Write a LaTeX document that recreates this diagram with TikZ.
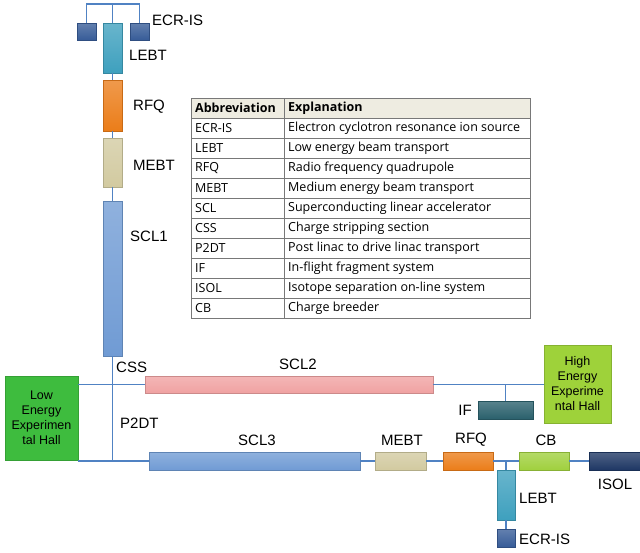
\documentclass[tikz,border=0pt]{standalone}
\usepackage{fontspec}
\setmainfont{Liberation Sans}
\newfontfamily\tabfont{Open Sans}
\definecolor{ecrc}{RGB}{55,92,152}
\definecolor{lebtc}{RGB}{62,160,190}
\definecolor{rfqc}{RGB}{235,125,25}
\definecolor{mebtc}{RGB}{210,202,160}
\definecolor{sclc}{RGB}{112,155,212}
\definecolor{scltwoc}{RGB}{240,162,162}
\definecolor{lowc}{RGB}{62,188,62}
\definecolor{highc}{RGB}{158,210,58}
\definecolor{ifc}{RGB}{42,96,108}
\definecolor{cbc}{RGB}{160,208,62}
\definecolor{isolc}{RGB}{30,55,100}
\definecolor{linec}{RGB}{80,130,195}
\definecolor{headc}{RGB}{238,236,225}
\definecolor{gridc}{RGB}{120,120,120}
\begin{document}
\begin{tikzpicture}[x=1pt,y=-1pt,
  blk/.style={inner sep=0pt,outer sep=0pt,draw=#1!85!black,line width=0.5pt,top color=#1!78!white,bottom color=#1},
  hallbox/.style={inner sep=0pt,outer sep=0pt,draw=#1!85!black,line width=0.5pt,fill=#1},
  lbl/.style={font=\fontsize{15}{18}\selectfont,inner sep=0pt},
  hall/.style={font=\fontsize{12.5}{15}\selectfont,align=center,inner sep=0pt},
  wire/.style={draw=linec,line width=1.5pt},
  tab/.style={font=\tabfont\fontsize{12.5}{14}\selectfont,inner sep=0pt,anchor=west},
  tabh/.style={font=\tabfont\fontsize{12.5}{14}\selectfont\bfseries,inner sep=0pt,anchor=west}]
\useasboundingbox (0,0) rectangle (640,552);
\fill[white] (0,0) rectangle (640,552);
\coordinate (tl) at (86.5,4);
\coordinate (tr) at (139.5,4);
\coordinate (tm) at (112.5,4);
% top column
\node[blk=ecrc,minimum width=19pt,minimum height=17pt] (ecrL) at (86.5,31.5) {};
\node[blk=ecrc,minimum width=19pt,minimum height=17pt] (ecrR) at (139.5,31.5) {};
\node[blk=lebtc,minimum width=19pt,minimum height=50pt] (lebt1) at (112.5,48) {};
\node[blk=rfqc,minimum width=19pt,minimum height=51pt] (rfq1) at (112.5,105.5) {};
\node[blk=mebtc,minimum width=19pt,minimum height=49pt] (mebt1) at (112.5,162.5) {};
\node[blk=sclc,minimum width=19pt,minimum height=155pt] (scl1) at (112.5,278.5) {};
% middle
\node[blk=scltwoc,minimum width=288pt,minimum height=17pt] (scl2) at (289,384.5) {};
\node[hallbox=lowc,minimum width=73pt,minimum height=84pt,hall] (low) at (41.5,418) {Low\\Energy\\Experimen\\tal Hall};
\node[hallbox=highc,minimum width=67pt,minimum height=78pt,hall] (high) at (577.5,384) {High\\Energy\\Experime\\ntal Hall};
\node[blk=ifc,minimum width=55pt,minimum height=18pt] (if) at (505.5,410) {};
% bottom
\node[blk=sclc,minimum width=211pt,minimum height=18pt] (scl3) at (254.5,461) {};
\node[blk=mebtc,minimum width=51pt,minimum height=18pt] (mebt2) at (400.5,461) {};
\node[blk=rfqc,minimum width=50pt,minimum height=18pt] (rfq2) at (468,461) {};
\node[blk=cbc,minimum width=50pt,minimum height=18pt] (cb) at (544,461) {};
\node[blk=isolc,minimum width=52pt,minimum height=18pt] (isol) at (615,461) {};
\node[blk=lebtc,minimum width=18pt,minimum height=50pt] (lebt2) at (506,495) {};
\node[blk=ecrc,minimum width=18pt,minimum height=18pt] (ecr2) at (506,538) {};
% wires
\path[wire] (ecrL.north) -- (tl) -- (tr) -- (ecrR.north);
\path[wire] (tm) -- (lebt1.north);
\path[wire] (lebt1.south) -- (rfq1.north);
\path[wire] (rfq1.south) -- (mebt1.north);
\path[wire] (mebt1.south) -- (scl1.north);
\coordinate (jb) at (scl1.south |- scl3.west);
\path[wire] (scl1.south) -- (jb);
\path[wire] (low.east |- scl2.west) -- (scl2.west);
\path[wire] (low.east |- scl3.west) -- (scl3.west);
\path[wire] (scl2.east) -- (high.west |- scl2.east);
\coordinate (jif) at (if.north |- scl2.east);
\path[wire] (jif) -- (if.north);
\path[wire] (scl3.east) -- (mebt2.west);
\path[wire] (mebt2.east) -- (rfq2.west);
\path[wire] (rfq2.east) -- (cb.west);
\path[wire] (cb.east) -- (isol.west);
\coordinate (jl) at (lebt2.north |- rfq2.east);
\path[wire] (jl) -- (lebt2.north);
\path[wire] (lebt2.south) -- (ecr2.north);
% labels
\node[lbl,anchor=west] (tecr1) at (152,20) {ECR-IS};
\node[lbl,anchor=west] (tlebt1) at (129,55) {LEBT};
\node[lbl,anchor=west] (trfq1) at (133,107) {RFQ};
\node[lbl,anchor=west] (tmebt1) at (133,165) {MEBT};
\node[lbl,anchor=west] (tscl1) at (130,236) {SCL1};
\node[lbl,anchor=west] (tcss) at (116,367) {CSS};
\node[lbl,anchor=west] (tp2dt) at (120,423) {P2DT};
\node[lbl] (tscl2) at (298,364) {SCL2};
\node[lbl] (tscl3) at (257,440) {SCL3};
\node[lbl] (tmebt2) at (402,440) {MEBT};
\node[lbl] (trfq2) at (471,440) {RFQ};
\node[lbl] (tcb) at (546,440) {CB};
\node[lbl] (tisol) at (615,484) {ISOL};
\node[lbl,anchor=west] (tlebt2) at (519,498) {LEBT};
\node[lbl,anchor=west] (tecr2) at (519,539) {ECR-IS};
\node[lbl,anchor=east] (tif) at (472,410) {IF};
% table
\fill[headc] (191,98) rectangle (530,118);
\draw[gridc,line width=0.6pt] (191,98) rectangle (530,318);
\draw[gridc,line width=0.6pt] (284,98) -- (284,318);
\foreach \k in {1,...,10} {\draw[gridc,line width=0.6pt] (191,98+20*\k) -- (530,98+20*\k);}
\node[tabh] (h1) at (195,108) {Abbreviation};
\node[tabh] (h2) at (288,108) {Explanation};
\foreach \i/\a/\e in {1/ECR-IS/Electron cyclotron resonance ion source,
  2/LEBT/Low energy beam transport,
  3/RFQ/Radio frequency quadrupole,
  4/MEBT/Medium energy beam transport,
  5/SCL/Superconducting linear accelerator,
  6/CSS/Charge stripping section,
  7/P2DT/Post linac to drive linac transport,
  8/IF/In-flight fragment system,
  9/ISOL/Isotope separation on-line system,
  10/CB/Charge breeder} {
  \node[tab] (a\i) at (195,108+20*\i) {\a};
  \node[tab] (e\i) at (288,108+20*\i) {\e};
}
\end{tikzpicture}
\end{document}
